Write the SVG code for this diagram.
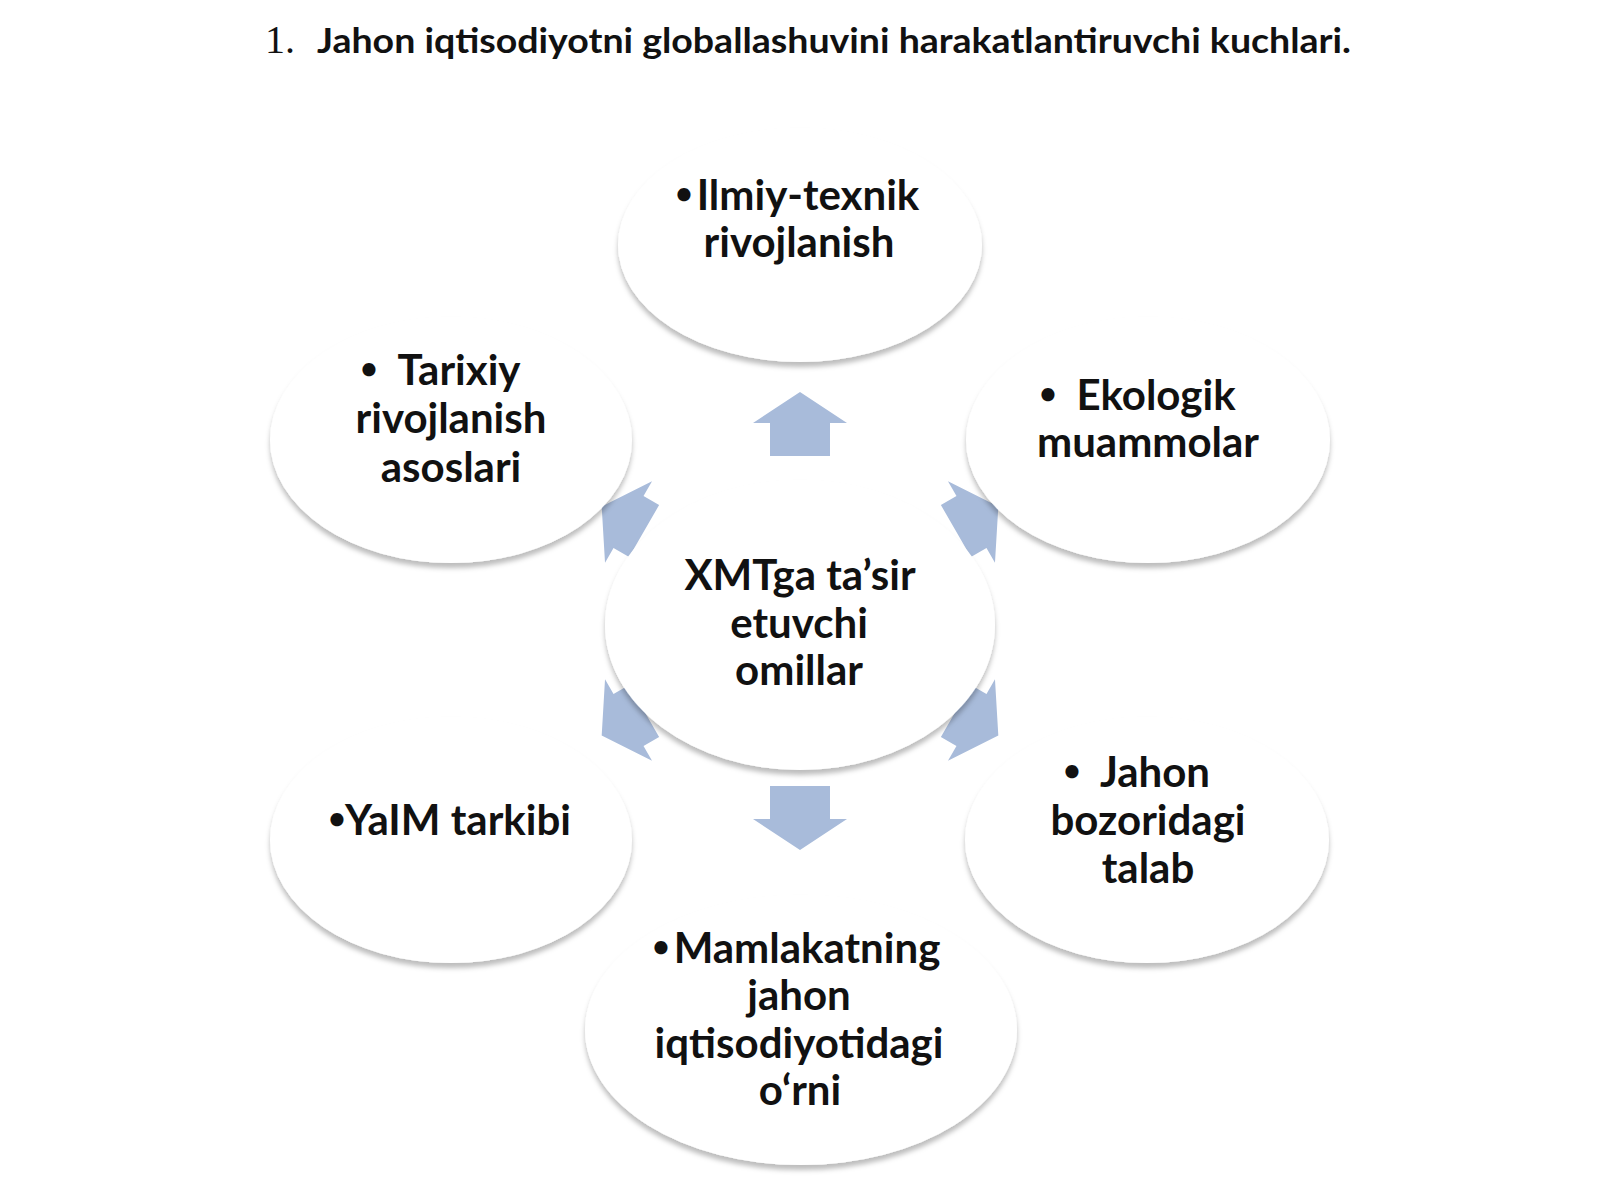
<svg xmlns="http://www.w3.org/2000/svg" xmlns:xlink="http://www.w3.org/1999/xlink" width="1600" height="1200" viewBox="0 0 1600 1200">
  <style>
    .node { fill: #ffffff; filter: url(#shadow); }
    .lbl { font-family: Lato, "Liberation Sans", sans-serif; font-weight: 700; font-size: 42px; fill: #111111; text-anchor: middle; }
    .bul { font-size: 30px; }
    .arrow { fill: #a8bbda; }
    .title { font-family: Lato, "Liberation Sans", sans-serif; font-weight: 700; font-size: 35px; fill: #111111; }
    .num { font-family: "Liberation Serif", serif; font-size: 40px; fill: #111111; }
  </style>
  <defs>
    <filter id="shadow" x="-10%" y="-10%" width="120%" height="125%">
      <feDropShadow dx="0" dy="5" stdDeviation="2.5" flood-color="#000000" flood-opacity="0.26"/>
    </filter>
    <polygon id="arr" points="0,-229 47,-198 30,-198 30,-165 -30,-165 -30,-198 -47,-198"/>
    <polygon id="head" points="0,-229 47,-198 30,-198 30,-180 -30,-180 -30,-198 -47,-198"/>
  </defs>
  <rect x="0" y="0" width="1600" height="1200" fill="#ffffff"/>

  <g id="title">
    <text class="num" x="265" y="53">1.</text>
    <text class="title" x="317" y="53" textLength="1034" lengthAdjust="spacingAndGlyphs">Jahon iqtisodiyotni globallashuvini harakatlantiruvchi kuchlari.</text>
  </g>

  <g id="connectors" class="arrow">
    <use xlink:href="#arr" transform="translate(800,621) rotate(0)"/>
    <use xlink:href="#head" transform="translate(800,621) rotate(60)"/>
    <use xlink:href="#head" transform="translate(800,621) rotate(120)"/>
    <use xlink:href="#arr" transform="translate(800,621) rotate(180)"/>
    <use xlink:href="#head" transform="translate(800,621) rotate(240)"/>
    <use xlink:href="#head" transform="translate(800,621) rotate(300)"/>
  </g>

  <g id="node-top">
    <ellipse class="node" cx="800" cy="245" rx="182" ry="117"/>
    <text class="lbl"><tspan class="bul" x="684" y="204">•</tspan><tspan x="808" y="210">Ilmiy-texnik</tspan><tspan x="799" y="257">rivojlanish</tspan></text>
  </g>

  <g id="node-tarixiy">
    <ellipse class="node" cx="451" cy="440" rx="181" ry="123"/>
    <text class="lbl"><tspan class="bul" x="369" y="379">•</tspan><tspan x="459" y="385">Tarixiy</tspan><tspan x="451" y="433">rivojlanish</tspan><tspan x="451" y="482">asoslari</tspan></text>
  </g>

  <g id="node-ekologik">
    <ellipse class="node" cx="1148" cy="440" rx="182" ry="123"/>
    <text class="lbl"><tspan class="bul" x="1048" y="404">•</tspan><tspan x="1156" y="410">Ekologik</tspan><tspan x="1148" y="457">muammolar</tspan></text>
  </g>

  <g id="node-yaim">
    <ellipse class="node" cx="451" cy="840" rx="181" ry="123"/>
    <text class="lbl"><tspan class="bul" x="337" y="829">•</tspan><tspan x="458" y="835">YaIM tarkibi</tspan></text>
  </g>

  <g id="node-jahon">
    <ellipse class="node" cx="1147" cy="840" rx="182" ry="123"/>
    <text class="lbl"><tspan class="bul" x="1072" y="781">•</tspan><tspan x="1155" y="787">Jahon</tspan><tspan x="1148" y="835">bozoridagi</tspan><tspan x="1148" y="883">talab</tspan></text>
  </g>

  <g id="node-mamlakat">
    <ellipse class="node" cx="801" cy="1030" rx="216" ry="135"/>
    <text class="lbl"><tspan class="bul" x="661" y="957">•</tspan><tspan x="807" y="963">Mamlakatning</tspan><tspan x="799" y="1010">jahon</tspan><tspan x="799" y="1058">iqtisodiyotidagi</tspan><tspan x="800" y="1105">o‘rni</tspan></text>
  </g>

  <g id="node-center">
    <ellipse class="node" cx="800" cy="625" rx="195" ry="145"/>
    <text class="lbl"><tspan x="800" y="590">XMTga ta’sir</tspan><tspan x="799" y="638">etuvchi</tspan><tspan x="799" y="685">omillar</tspan></text>
  </g>
</svg>
